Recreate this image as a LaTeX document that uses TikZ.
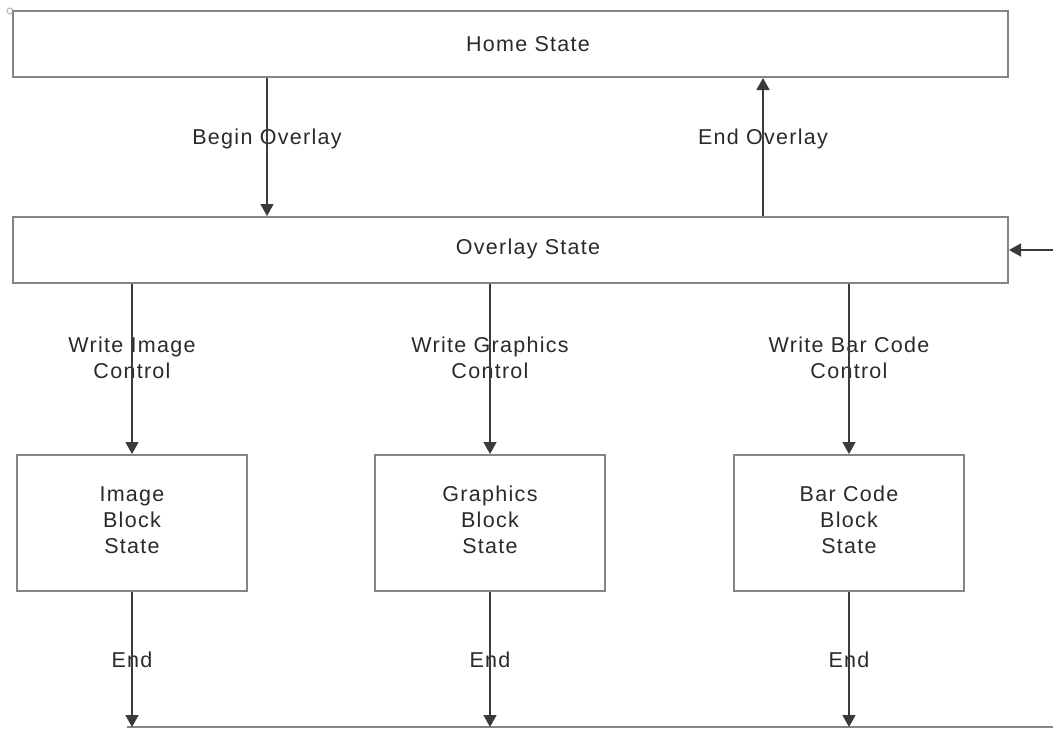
\documentclass[tikz,border=0pt]{standalone}
\usepackage{fontspec}
\setmainfont{Liberation Sans}[LetterSpace=6]
\usetikzlibrary{arrows.meta}
\definecolor{edgegray}{HTML}{858585}
\definecolor{linedark}{HTML}{3A3A3A}
\definecolor{textdark}{HTML}{2A2A2A}
\begin{document}
\begin{tikzpicture}[x=1pt,y=-1pt,
  statebox/.style={draw=edgegray,line width=2pt,inner sep=0pt,minimum width=#1},
  widebox/.style={statebox=995pt,minimum height=66pt},
  blockbox/.style={statebox=230pt,minimum height=136pt},
  txt/.style={text=textdark,font=\fontsize{21.5}{26}\selectfont,align=center,inner sep=0pt},
  flow/.style={draw=linedark,line width=1.6pt,-{Triangle[width=13pt,length=12pt]}},
  baseline/.style={draw=edgegray,line width=1.5pt}]
\useasboundingbox (0,0) rectangle (1053,729);

% small handle mark at the top-left corner
\draw[edgegray!60,line width=1pt] (10,11) circle (3pt);

% main state bars
\node[widebox] (home) at (510.5,44) {};
\node[txt] (hometxt) at (528,44) {Home State};
\node[widebox] (overlay) at (510.5,250) {};
\node[txt] (overlaytxt) at (528,249) {Overlay State};

% block states
\node[blockbox] (image) at (132,523) {};
\node[blockbox] (graphics) at (490,523) {};
\node[blockbox] (barcode) at (849,523) {};
\node[txt] (imagetxt) at (132,520) {Image\\Block\\State};
\node[txt] (graphicstxt) at (490,520) {Graphics\\Block\\State};
\node[txt] (barcodetxt) at (849,520) {Bar Code\\Block\\State};

% transition labels
\node[txt] (lbegin) at (267,139) {Begin Overlay};
\node[txt] (lend) at (763,139) {End Overlay};
\node[txt] (limage) at (132,358) {Write Image\\Control};
\node[txt] (lgraphics) at (490,358) {Write Graphics\\Control};
\node[txt] (lbarcode) at (849,358) {Write Bar Code\\Control};
\node[txt] (end1) at (132,660) {End};
\node[txt] (end2) at (490,660) {End};
\node[txt] (end3) at (849,660) {End};

% free ends
\coordinate (ein) at (1053,250);
\coordinate (sink1) at (132,727);
\coordinate (sink2) at (490,727);
\coordinate (sink3) at (849,727);
\coordinate (railL) at (127,727);
\coordinate (railR) at (1053,727);

% transitions
\draw[flow] (home.south -| lbegin) -- (overlay.north -| lbegin);
\draw[flow] (overlay.north -| lend) -- (home.south -| lend);
\draw[flow] (ein) -- (overlay.east);
\draw[flow] (overlay.south -| image) -- (image.north);
\draw[flow] (overlay.south -| graphics) -- (graphics.north);
\draw[flow] (overlay.south -| barcode) -- (barcode.north);

% exits to the common rail
\draw[baseline] (railL) -- (railR);
\draw[flow] (image.south) -- (sink1);
\draw[flow] (graphics.south) -- (sink2);
\draw[flow] (barcode.south) -- (sink3);
\end{tikzpicture}
\end{document}
